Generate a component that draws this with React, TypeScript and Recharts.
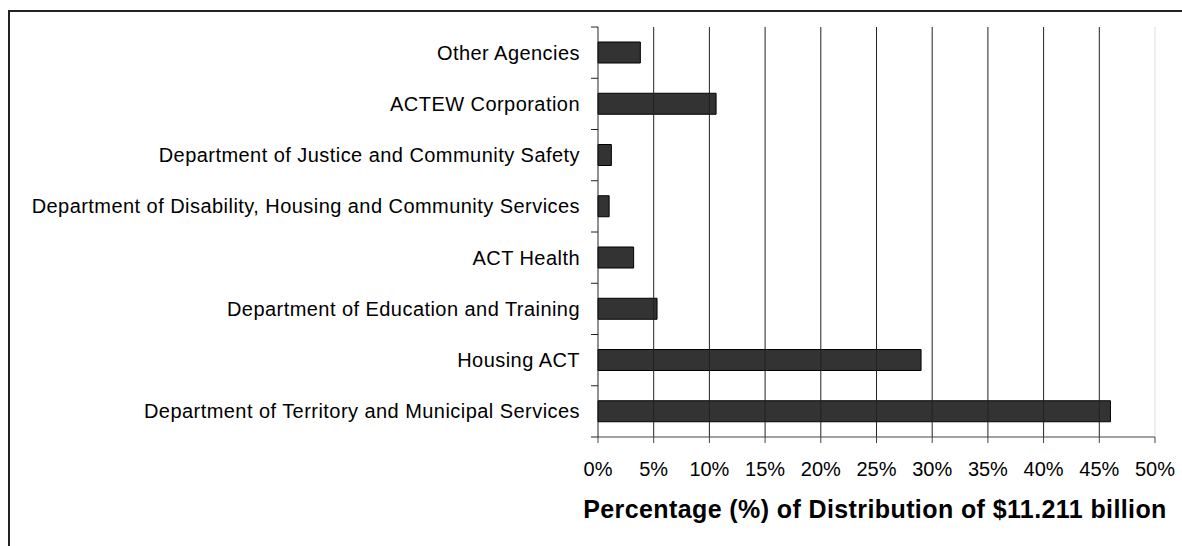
import { Bar, BarChart, ReferenceLine, XAxis, YAxis } from "recharts";

const agencies = [
  "Other Agencies",
  "ACTEW Corporation",
  "Department of Justice and Community Safety",
  "Department of Disability, Housing and Community Services",
  "ACT Health",
  "Department of Education and Training",
  "Housing ACT",
  "Department of Territory and Municipal Services",
];

const shares = [3.8, 10.6, 1.2, 1.0, 3.2, 5.3, 29.0, 46.0];

const percentTicks = [0, 5, 10, 15, 20, 25, 30, 35, 40, 45, 50];

const axisTitle = "Percentage (%) of Distribution of $11.211 billion";

const chartData = agencies.map((name, i) => ({ name, share: shares[i] }));

const FONT = "'Liberation Sans', Arial, sans-serif";
const PLOT_TOP = 27;
const PLOT_BOTTOM = 437;
const XAXIS_H = 60;
const BAND = (PLOT_BOTTOM - PLOT_TOP) / agencies.length;

// category ticks sit on band edges, like the original spreadsheet chart
function AgencyTick(props: any) {
  const { x, y, payload, index } = props;
  const top = y - BAND / 2;
  return (
    <g>
      <line x1={x - 7} x2={x} y1={top} y2={top} stroke="#222" />
      {index === agencies.length - 1 && (
        <line x1={x - 7} x2={x} y1={top + BAND} y2={top + BAND} stroke="#222" />
      )}
      <text
        x={x - 18}
        y={y}
        dy="0.35em"
        textAnchor="end"
        fill="#000"
        fontSize={20}
        fontFamily={FONT}
        style={{ letterSpacing: 0.45 }}
      >
        {payload.value}
      </text>
    </g>
  );
}

export default function App() {
  return (
    <div style={{ position: "absolute", left: 0, top: 0, width: 1182, height: 546, background: "#fff", overflow: "hidden" }}>
      <div
        style={{
          position: "absolute",
          left: 8,
          top: 10,
          width: 1200,
          height: 560,
          borderLeft: "2px solid #222",
          borderTop: "2px solid #222",
        }}
      />
      <div style={{ position: "absolute", left: 0, top: 0 }}>
        <BarChart
          width={1182}
          height={546}
          data={chartData}
          layout="vertical"
          margin={{ top: PLOT_TOP, right: 27, bottom: 546 - PLOT_BOTTOM - XAXIS_H, left: 8 }}
          barSize={21}
        >
          {percentTicks.slice(1, -1).map((t) => (
            <ReferenceLine key={t} x={t} stroke="#222" strokeWidth={1} />
          ))}
          <ReferenceLine x={50} stroke="#ddd" strokeWidth={1} />
          <XAxis
            type="number"
            domain={[0, 50]}
            ticks={percentTicks}
            tickFormatter={(v) => `${v}%`}
            interval={0}
            height={XAXIS_H}
            stroke="#444"
            tickSize={6}
            tickMargin={19}
            tick={{ fill: "#000", fontSize: 20, fontFamily: FONT }}
          />
          <YAxis
            type="category"
            dataKey="name"
            width={590}
            stroke="#222"
            tickLine={false}
            tickSize={0}
            tickMargin={0}
            tick={<AgencyTick />}
            interval={0}
          />
          <Bar dataKey="share" fill="#333333" stroke="#000" strokeWidth={1} isAnimationActive={false} />
        </BarChart>
      </div>
      <div
        style={{
          position: "absolute",
          left: 475,
          width: 800,
          top: 495,
          textAlign: "center",
          fontFamily: FONT,
          fontWeight: "bold",
          fontSize: 25,
          letterSpacing: 0.4,
          color: "#000",
          whiteSpace: "nowrap",
        }}
      >
        {axisTitle}
      </div>
    </div>
  );
}
